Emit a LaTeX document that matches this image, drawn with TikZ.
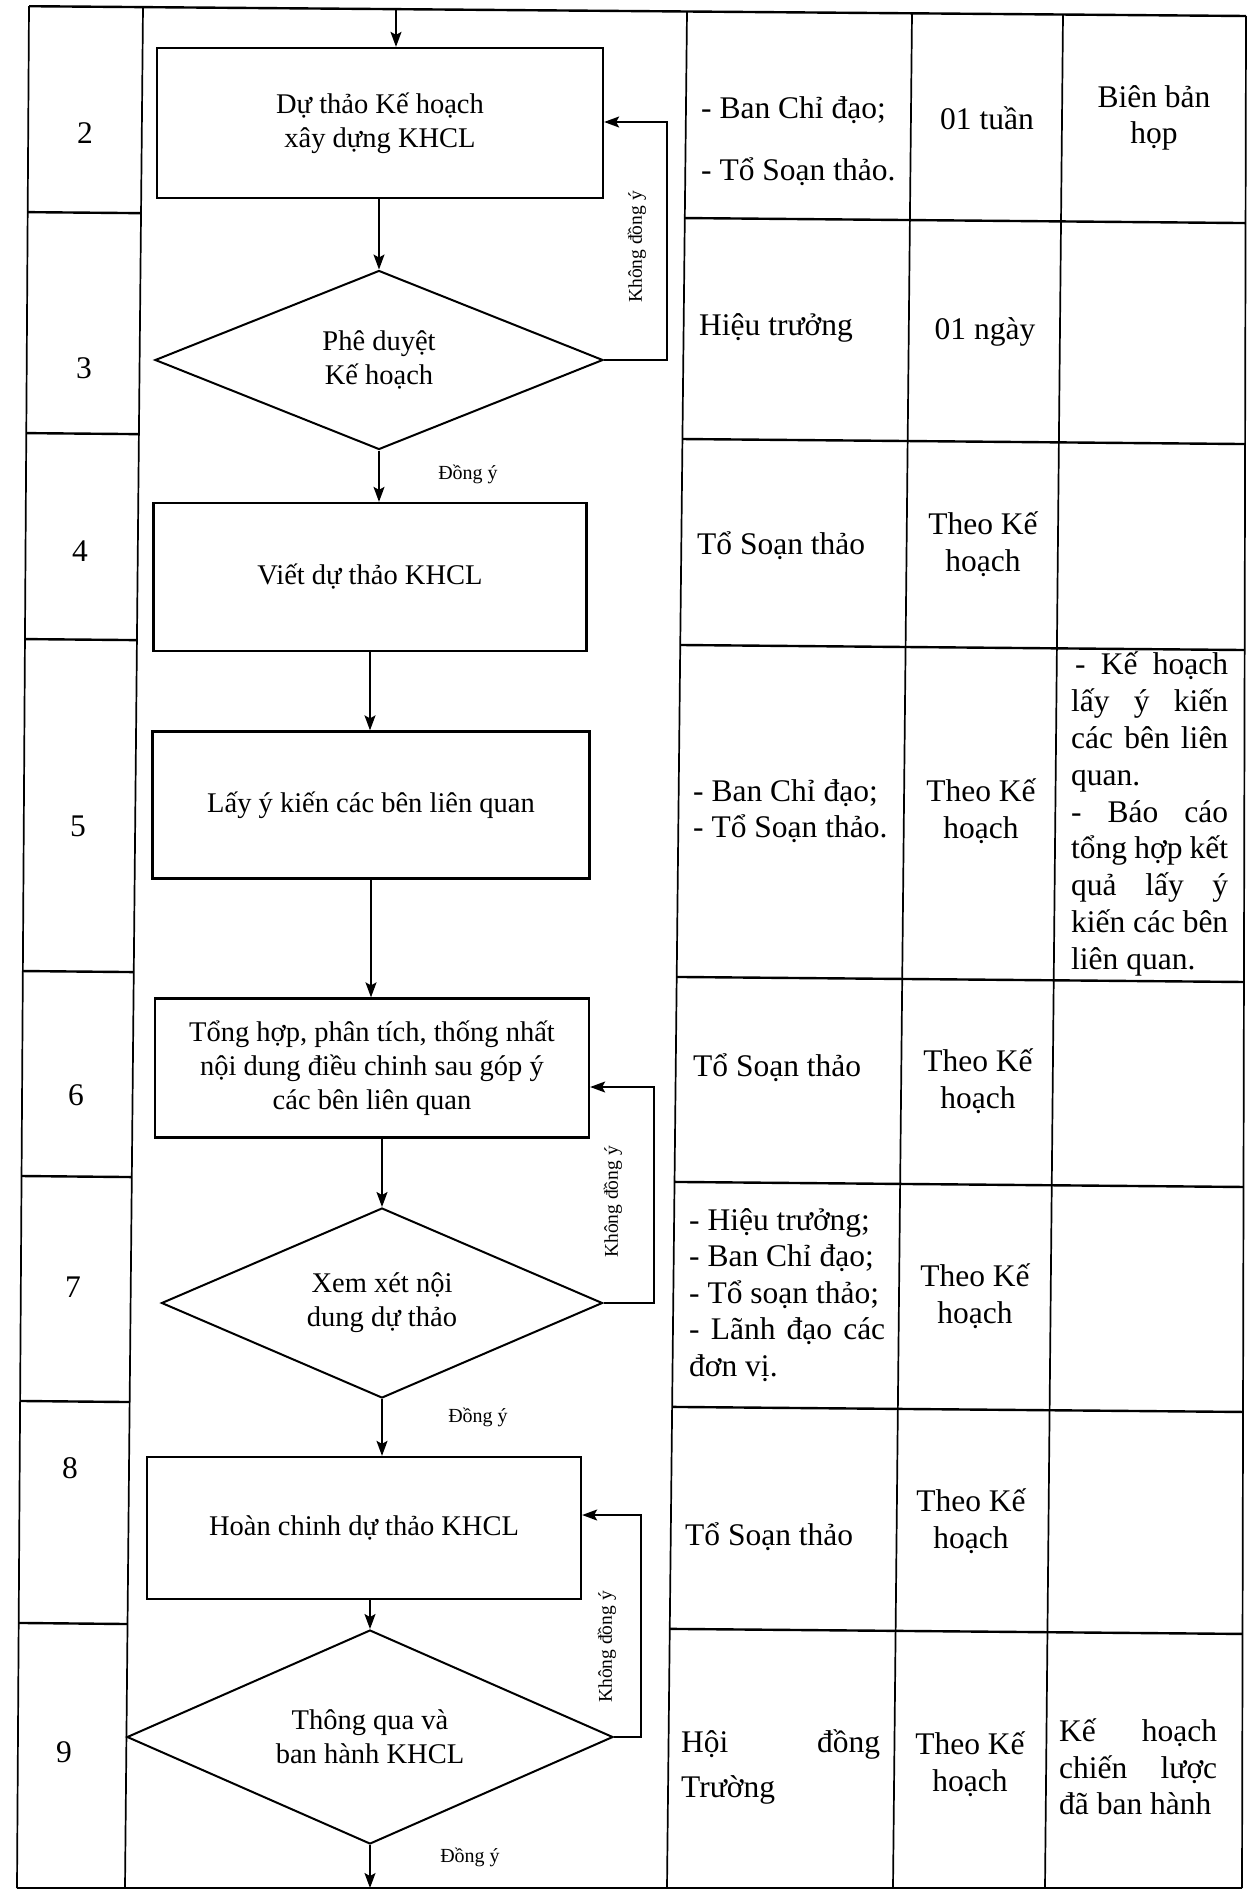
\documentclass[tikz,border=0pt]{standalone}
\usepackage{fontspec}
\setmainfont{Liberation Serif}
\usetikzlibrary{shapes.geometric,arrows.meta}
\begin{document}
\begin{tikzpicture}[x=1pt,y=-1pt,
  tline/.style={line width=2.4pt},
  vline/.style={line width=1.7pt},
  box/.style={draw,line width=2.3pt,rectangle,align=center,inner sep=0pt,font=\fontsize{28.5}{34}\selectfont},
  dia/.style={draw,line width=2pt,diamond,aspect=2.5,inner sep=0pt,align=center,font=\fontsize{28.5}{34}\selectfont},
  arr/.style={line width=1.6pt,-{Stealth[length=15pt,width=11pt,inset=3pt]}},
  cell/.style={inner sep=0pt,align=left,font=\fontsize{31.5}{36.5}\selectfont},
  ccell/.style={inner sep=0pt,align=center,font=\fontsize{31.5}{36.5}\selectfont},
  jcell/.style={inner sep=0pt,align=left,font=\fontsize{31.5}{36.9}\selectfont},
  num/.style={inner sep=0pt,font=\fontsize{31.5}{36.5}\selectfont},
  small/.style={inner sep=0pt,font=\fontsize{20}{24}\selectfont},
  vlabel/.style={inner sep=0pt,rotate=90,font=\fontsize{19.5}{23}\selectfont}
]
\useasboundingbox (0,0) rectangle (1248,1893);

% ---------- table frame (slightly skewed like the scan) ----------
\coordinate (V0t) at (29,6.2);   \coordinate (V0b) at (17,1888);
\coordinate (V1t) at (143,7.1);  \coordinate (V1b) at (125,1888);
\coordinate (V2t) at (687,11.5); \coordinate (V2b) at (667,1888);
\coordinate (V3t) at (912,13.3); \coordinate (V3b) at (893,1888);
\coordinate (V4t) at (1063,14.5);\coordinate (V4b) at (1045,1888);
\coordinate (V5t) at (1246,16);  \coordinate (V5b) at (1242,1888);

\draw[vline] (V0t) -- (V0b);
\draw[vline] (V1t) -- (V1b);
\draw[vline] (V2t) -- (V2b);
\draw[vline] (V3t) -- (V3b);
\draw[vline] (V4t) -- (V4b);
\draw[vline] (V5t) -- (V5b);
\draw[tline] (V0t) -- (V5t);
\draw[tline] (V0b) -- (V5b);

\foreach \yy in {218,439,645,977,1182,1407,1629} {
  \coordinate (Ha) at (0,\yy-6.1);
  \coordinate (Hb) at (1248,\yy+5.1);
  \draw[tline] (intersection of V0t--V0b and Ha--Hb) -- (intersection of V1t--V1b and Ha--Hb);
  \draw[tline] (intersection of V2t--V2b and Ha--Hb) -- (intersection of V5t--V5b and Ha--Hb);
}

% ---------- step numbers ----------
\node[num] (n2) at (85,133) {2};
\node[num] (n3) at (84,368) {3};
\node[num] (n4) at (80,551) {4};
\node[num] (n5) at (78,826) {5};
\node[num] (n6) at (76,1095) {6};
\node[num] (n7) at (73,1287) {7};
\node[num] (n8) at (70,1468) {8};
\node[num] (n9) at (64,1752) {9};

% ---------- flowchart ----------
\node[box,minimum width=446pt,minimum height=150pt] (b1) at (380,123) {Dự thảo Kế hoạch\\xây dựng KHCL};
\node[dia,minimum width=448pt,minimum height=179pt] (d1) at (379,360) {Phê duyệt\\Kế hoạch};
\node[box,minimum width=433pt,minimum height=148pt] (b2) at (370,577) {Viết dự thảo KHCL};
\node[box,minimum width=437pt,minimum height=147pt] (b3) at (371,805) {Lấy ý kiến các bên liên quan};
\node[box,minimum width=434pt,minimum height=139pt] (b4) at (372,1068) {Tổng hợp, phân tích, thống nhất\\nội dung điều chinh sau góp ý\\các bên liên quan};
\node[dia,minimum width=441pt,minimum height=190pt] (d2) at (382,1303) {Xem xét nội\\dung dự thảo};
\node[box,minimum width=434pt,minimum height=142pt] (b5) at (364,1528) {Hoàn chinh dự thảo KHCL};
\node[dia,minimum width=486pt,minimum height=214pt] (d3) at (370,1737) {Thông qua và\\ban hành KHCL};

\coordinate (topin) at (396,10);
\coordinate (botout) at (370,1888);
\coordinate (f1) at (667,122);
\coordinate (f2) at (654,1087);
\coordinate (f3) at (641,1515);

\draw[arr] (topin) -- (topin |- b1.north);
\draw[arr] (b1.south -| d1.north) -- (d1.north);
\draw[arr] (d1.south) -- (d1.south |- b2.north);
\draw[arr] (b2.south) -- (b2.south |- b3.north);
\draw[arr] (b3.south) -- (b3.south |- b4.north);
\draw[arr] (b4.south -| d2.north) -- (d2.north);
\draw[arr] (d2.south) -- (d2.south |- b5.north);
\draw[arr] (b5.south -| d3.north) -- (d3.north);
\draw[arr] (d3.south) -- (botout);

\draw[arr] (d1.east) -| (f1) -- (f1 -| b1.east);
\draw[arr] (d2.east) -| (f2) -- (f2 -| b4.east);
\draw[arr] (d3.east) -| (f3) -- (f3 -| b5.east);

\node[vlabel] (k1) at (637,247) {Không đồng ý};
\node[vlabel] (k2) at (613,1202) {Không đồng ý};
\node[vlabel] (k3) at (607,1647) {Không đồng ý};
\node[small] (y1) at (468,474) {Đồng ý};
\node[small] (y2) at (478,1417) {Đồng ý};
\node[small] (y3) at (470,1857) {Đồng ý};

% ---------- column: responsible ----------
\node[cell,anchor=west] (c2) at (701,141) {- Ban Chỉ đạo;\\[25.5pt]- Tổ Soạn thảo.};
\node[cell,anchor=west] (c3) at (699,328) {Hiệu trưởng};
\node[cell,anchor=west] (c4) at (697,546) {Tổ Soạn thảo};
\node[cell,anchor=west] (c5) at (693,811) {- Ban Chỉ đạo;\\- Tổ Soạn thảo.};
\node[cell,anchor=west] (c6) at (693,1068) {Tổ Soạn thảo};
\node[cell,anchor=west] (c7) at (689,1295) {- Hiệu trưởng;\\- Ban Chỉ đạo;\\- Tổ soạn thảo;\\\makebox[196pt][s]{- Lãnh đạo các}\\đơn vị.};
\node[cell,anchor=west] (c8) at (685,1537) {Tổ Soạn thảo};
\node[cell,anchor=west] (c9) at (681,1767) {\makebox[199pt][s]{Hội đồng}\\[8.5pt]Trường};

% ---------- column: time ----------
\node[ccell] (t2) at (987,118) {01 tuần};
\node[ccell] (t3) at (985,332) {01 ngày};
\node[ccell] (t4) at (983,544) {Theo Kế\\hoạch};
\node[ccell] (t5) at (981,811) {Theo Kế\\hoạch};
\node[ccell] (t6) at (978,1081) {Theo Kế\\hoạch};
\node[ccell] (t7) at (975,1296) {Theo Kế\\hoạch};
\node[ccell] (t8) at (971,1521) {Theo Kế\\hoạch};
\node[ccell] (t9) at (970,1764) {Theo Kế\\hoạch};

% ---------- column: records ----------
\node[ccell] (r2) at (1154,118) {Biên bản\\họp};
\node[jcell,anchor=west] (r5) at (1071,814) {\makebox[157pt][s]{\hspace{4pt}- Kế hoạch}\\
\makebox[157pt][s]{lấy ý kiến}\\
\makebox[157pt][s]{các bên liên}\\
quan.\\
\makebox[157pt][s]{- Báo cáo}\\
\makebox[157pt][s]{tổng hợp kết}\\
\makebox[157pt][s]{quả lấy ý}\\
\makebox[157pt][s]{kiến các bên}\\
liên quan.};
\node[cell,anchor=west] (r9) at (1059,1767) {\makebox[158pt][s]{Kế hoạch}\\
\makebox[158pt][s]{chiến lược}\\
đã ban hành};
\end{tikzpicture}
\end{document}
